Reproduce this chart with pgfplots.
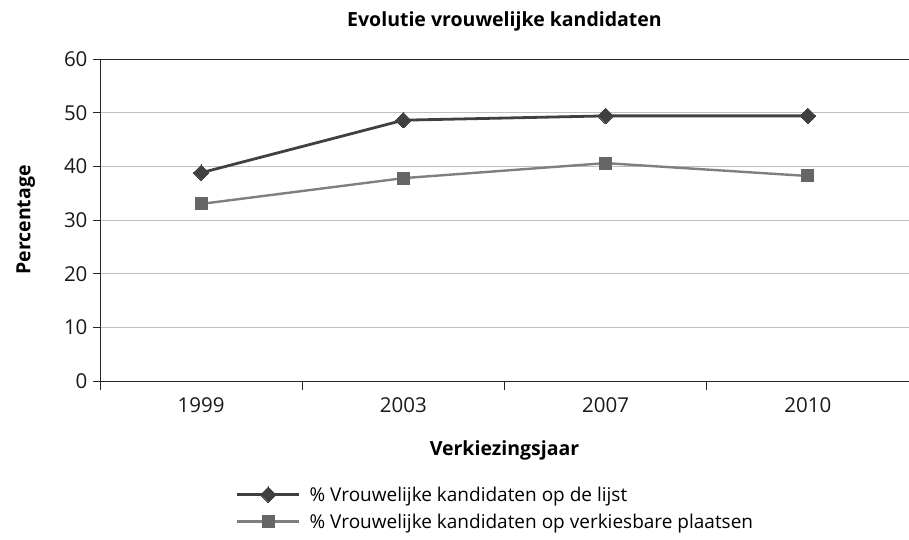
\documentclass[border=0pt]{standalone}
\usepackage{pgfplots}
\pgfplotsset{compat=1.18}
\usepackage{fontspec}
\setmainfont{Open Sans}
\definecolor{sone}{HTML}{404040}
\definecolor{stwo}{HTML}{7F7F7F}
\definecolor{grd}{HTML}{BFBFBF}
\begin{document}
\begin{tikzpicture}[x=1pt,y=1pt]
\path[use as bounding box] (-100,-159) rectangle (809,381);
\begin{axis}[
  at={(0,0)}, anchor=south west,
  scale only axis, width=809pt, height=322pt,
  xmin=0.5, xmax=4.5, ymin=0, ymax=60,
  axis lines*=left,
  axis line style={color=black!85, line width=0.9pt},
  xtick={1,2,3,4},
  xticklabels={1999,2003,2007,2010},
  major x tick style={draw=none},
  minor xtick={0.5,1.5,2.5,3.5},
  minor x tick style={black!85, line width=0.9pt},
  minor tick length=9pt,
  ytick={0,10,20,30,40,50},
  extra y ticks={60},
  extra y tick style={grid style={black!85, line width=1pt}},
  ymajorgrids,
  grid style={grd, line width=0.9pt},
  major tick length=7pt,
  y tick style={black!85, line width=0.9pt},
  tick align=outside,
  /pgf/number format/assume math mode=true,
  tick label style={font=\fontsize{20.5}{24}\selectfont, color=black!90},
  yticklabel style={xshift=-2pt},
  xticklabel style={yshift=-6pt},
  title={\textbf{Evolutie vrouwelijke kandidaten}},
  title style={font=\fontsize{19.5}{23}\selectfont, at={(0.5,1)}, anchor=south, yshift=18pt},
  xlabel={\textbf{Verkiezingsjaar}},
  xlabel style={font=\fontsize{19.5}{23}\selectfont, yshift=-21pt},
  ylabel={\textbf{Percentage}},
  ylabel style={font=\fontsize{19.5}{23}\selectfont, yshift=8pt},
  legend style={at={(0.164,-0.315)}, anchor=north west, draw=none, fill=none,
    font=\fontsize{19}{22}\selectfont, row sep=7pt,
    legend cell align=left},
  legend image code/.code={\draw[mark repeat=2,mark phase=2] plot coordinates {(0pt,0pt)(31pt,0pt)(62pt,0pt)};},
  clip=false,
]
\addplot[sone, line width=2.8pt, mark=square*, mark size=5.5pt, mark options={rotate=45, fill=sone, line width=0pt, draw=sone}]
  coordinates {(1,38.8)(2,48.6)(3,49.4)(4,49.4)};
\addlegendentry{\hspace{7pt}\% Vrouwelijke kandidaten op de lijst}
\addplot[stwo, line width=2.4pt, mark=square*, mark size=6pt, mark options={fill=black!60, draw=black!60, line width=0pt}]
  coordinates {(1,33.0)(2,37.8)(3,40.6)(4,38.2)};
\addlegendentry{\hspace{7pt}\% Vrouwelijke kandidaten op verkiesbare plaatsen}
\end{axis}
\end{tikzpicture}
\end{document}
